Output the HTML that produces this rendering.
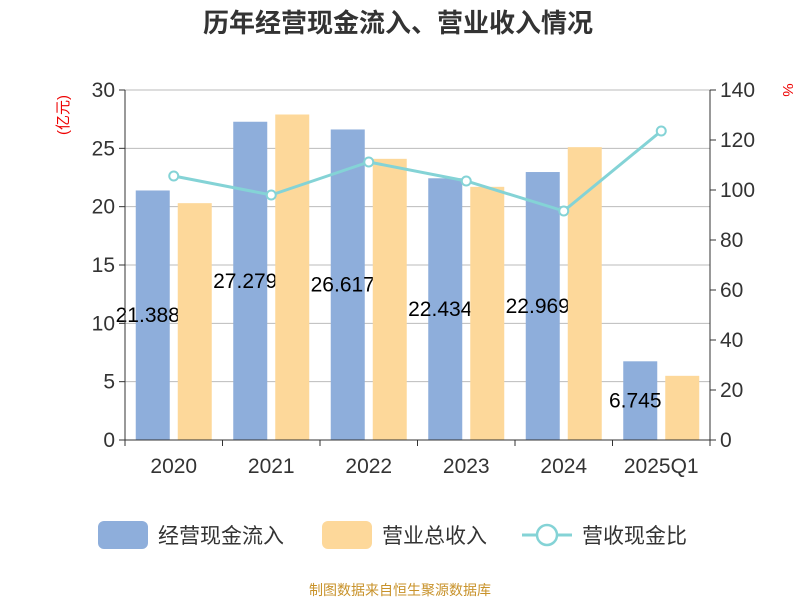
<!DOCTYPE html>
<html><head><meta charset="utf-8"><style>
body{margin:0;background:#fff;font-family:"Liberation Sans","Noto Sans CJK SC",sans-serif}
</style></head><body>
<svg id="c" width="800" height="600" xmlns="http://www.w3.org/2000/svg" style="font-family:'Liberation Sans','Noto Sans CJK SC',sans-serif">
<text x="398" y="32" text-anchor="middle" font-size="26" font-weight="bold" fill="#333">历年经营现金流入、营业收入情况</text>
<text transform="translate(68,115) rotate(-90)" text-anchor="middle" font-size="15" fill="#e00">(亿元)</text>
<text transform="translate(783,90) rotate(90)" text-anchor="middle" font-size="15" fill="#e00">%</text>
<g id="grid"></g><g id="bars1"></g><g id="labels"></g><g id="bars2"></g><g id="axes"></g><g id="line"></g>
<g>
<rect x="98" y="521" width="50" height="28" rx="6" fill="#8eaedb"/>
<text x="158" y="543" font-size="21" fill="#333">经营现金流入</text>
<rect x="322" y="521" width="50" height="28" rx="6" fill="#fdd89a"/>
<text x="382" y="543" font-size="21" fill="#333">营业总收入</text>
<line x1="522" y1="535" x2="572" y2="535" stroke="#84d3d6" stroke-width="3"/>
<circle cx="547" cy="535" r="10" fill="#fff" stroke="#84d3d6" stroke-width="2.5"/>
<text x="582" y="543" font-size="21" fill="#333">营收现金比</text>
</g>
<text x="400" y="595" text-anchor="middle" font-size="14" fill="#c8922a">制图数据来自恒生聚源数据库</text>
</svg>
<script>
const categories=["2020","2021","2022","2023","2024","2025Q1"];
const cashIn=[21.388,27.279,26.617,22.434,22.969,6.745];
const revenue=[20.3,27.9,24.1,21.7,25.1,5.5];
const ratio=[105.6,98,111.2,103.6,91.6,123.6];
const leftTicks=[0,5,10,15,20,25,30];
const rightTicks=[0,20,40,60,80,100,120,140];
const NS="http://www.w3.org/2000/svg";
const X0=125,X1=710,Y0=440,Y1=90,band=(X1-X0)/categories.length;
const yL=v=>Y0-(v/30)*(Y0-Y1), yR=v=>Y0-(v/140)*(Y0-Y1);
function mk(p,t,a){const e=document.createElementNS(NS,t);for(const k in a)e.setAttribute(k,a[k]);document.getElementById(p).appendChild(e);return e;}
leftTicks.forEach(v=>{
 let g=mk('grid','line',{x1:X0,x2:X1,y1:yL(v),y2:yL(v),stroke:'#bbbbbb','stroke-width':1});
 
 let t=mk('axes','line',{x1:X0-6,x2:X0,y1:yL(v),y2:yL(v),stroke:'#333'});
 
 let l=mk('axes','text',{x:X0-10,y:yL(v)+7,'text-anchor':'end','font-size':21,fill:'#333'});l.textContent=v;
 
});
rightTicks.forEach(v=>{
 let t=mk('axes','line',{x1:X1,x2:X1+6,y1:yR(v),y2:yR(v),stroke:'#333'});
 
 let l=mk('axes','text',{x:X1+10,y:yR(v)+7,'font-size':21,fill:'#333'});l.textContent=v;
 
});
let a=mk('axes','line',{x1:X0,x2:X0,y1:Y1,y2:Y0,stroke:'#333'});
a=mk('axes','line',{x1:X1,x2:X1,y1:Y1,y2:Y0,stroke:'#333'});
a=mk('axes','line',{x1:X0,x2:X1,y1:Y0,y2:Y0,stroke:'#333'});
for(let i=0;i<=categories.length;i++){let t=mk('axes','line',{x1:X0+i*band,x2:X0+i*band,y1:Y0,y2:Y0+6,stroke:'#333'});
 }
const bw=34,pts=[];
categories.forEach((c,i)=>{
 const cx=X0+band*(i+0.5);
 let b=mk('bars1','rect',{x:cx-bw-4,y:yL(cashIn[i]),width:bw,height:Y0-yL(cashIn[i]),fill:'#8eaedb'});
 
 let l=mk('labels','text',{x:cx-bw/2-9,y:(Y0+yL(cashIn[i]))/2+7,'text-anchor':'middle','font-size':21,fill:'#000'});l.textContent=cashIn[i];
 
 b=mk('bars2','rect',{x:cx+4,y:yL(revenue[i]),width:bw,height:Y0-yL(revenue[i]),fill:'#fdd89a'});
 
 let x=mk('axes','text',{x:cx,y:Y0+33,'text-anchor':'middle','font-size':21,fill:'#333'});x.textContent=c;
 
 pts.push([cx,yR(ratio[i])]);
});
let pl=mk('line','polyline',{points:pts.map(p=>p.join(',')).join(' '),fill:'none',stroke:'#84d3d6','stroke-width':3});

pts.forEach((p,i)=>{let c=mk('line','circle',{cx:p[0],cy:p[1],r:4.5,fill:'#fff',stroke:'#84d3d6','stroke-width':2});
 });
</script>
</body></html>
